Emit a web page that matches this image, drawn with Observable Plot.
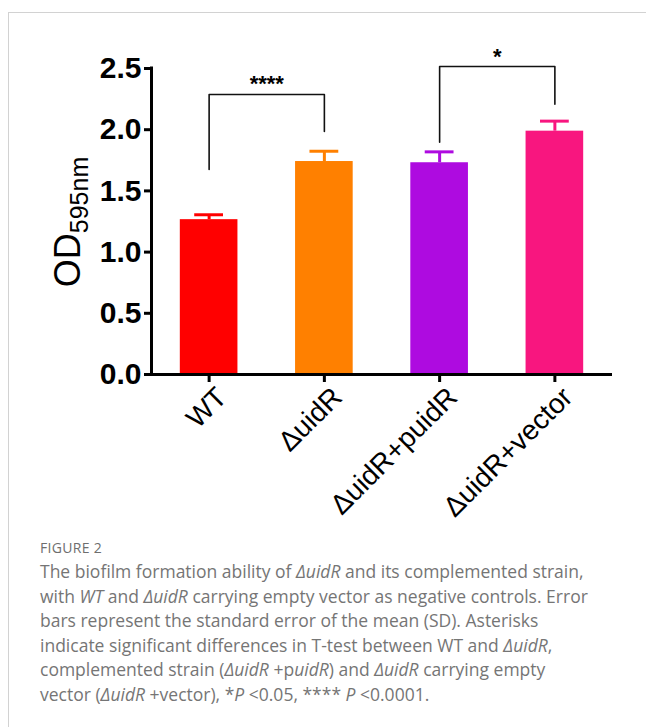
<!DOCTYPE html>
<html>
<head>
<meta charset="utf-8">
<script src="https://cdn.jsdelivr.net/npm/d3@7"></script>
<script src="https://cdn.jsdelivr.net/npm/@observablehq/plot@0.6"></script>
<style>
html, body { margin: 0; padding: 0; background: #fff; width: 646px; height: 727px; overflow: hidden; }
#card { position: absolute; left: 8px; top: 12px; width: 700px; height: 800px; border-top: 1px solid #d2d2d2; border-left: 1px solid #d2d2d2; }
#chart { position: absolute; left: 0; top: 0; }
#ylab { position: absolute; left: 71px; top: 222px; transform: translate(-50%, -50%) rotate(-90deg); white-space: nowrap; font-family: "Liberation Sans", Arial, sans-serif; font-size: 36px; line-height: 1; color: #000; }
#ylab sub { font-size: 25px; vertical-align: -0.3em; }
#fig { position: absolute; left: 40px; top: 538px; font-family: "Open Sans", sans-serif; font-size: 14px; color: #6e6e6e; letter-spacing: 0.3px; }
#cap { position: absolute; left: 40px; top: 559px; font-family: "Open Sans", sans-serif; font-size: 17.5px; line-height: 24.5px; color: #757575; white-space: nowrap; }
</style>
</head>
<body>
<div id="card"></div>
<div id="chart"></div>
<div id="ylab">OD<sub>595nm</sub></div>
<div id="fig">FIGURE 2</div>
<div id="cap">The biofilm formation ability of <i>ΔuidR</i> and its complemented strain,<br>with <i>WT</i> and <i>ΔuidR</i> carrying empty vector as negative controls. Error<br>bars represent the standard error of the mean (SD). Asterisks<br>indicate significant differences in T-test between WT and <i>ΔuidR</i>,<br>complemented strain (<i>ΔuidR</i> +p<i>uidR</i>) and <i>ΔuidR</i> carrying empty<br>vector (<i>ΔuidR</i> +vector), *<i>P</i> &lt;0.05, **** <i>P</i> &lt;0.0001.</div>
<script>
// ---- data ----
const categories = ["WT", "ΔuidR", "ΔuidR+puidR", "ΔuidR+vector"];
const means = [1.265, 1.740, 1.730, 1.988];
const errors = [0.040, 0.084, 0.089, 0.082];
const colors = ["#FF0000", "#FF8000", "#AE0BE0", "#F8167F"];
const yTicks = [0, 0.5, 1.0, 1.5, 2.0, 2.5];

const bracketFrom = [0, 2];          // category index
const bracketTo = [1, 3];
const bracketTop = [2.288, 2.516];
const bracketLeftEnd = [1.675, 1.898];
const bracketRightEnd = [1.985, 2.208];
const bracketLabels = ["****", "*"];

// ---- derived tables ----
const bars = categories.map((c, i) => ({i, name: c, value: means[i], err: errors[i], color: colors[i]}));
const bracketPts = [];
bracketFrom.forEach((f, k) => {
  const t = bracketTo[k];
  bracketPts.push({id: k, x: f, y: bracketLeftEnd[k]});
  bracketPts.push({id: k, x: f, y: bracketTop[k]});
  bracketPts.push({id: k, x: t, y: bracketTop[k]});
  bracketPts.push({id: k, x: t, y: bracketRightEnd[k]});
});
const stars = bracketLabels.map((s, k) => ({x: (bracketFrom[k] + bracketTo[k]) / 2, y: bracketTop[k], label: s}));
const xTicks = categories.map((c, i) => i);

const halfBar = 0.25, halfCap = 0.125;

const chart = Plot.plot({
  width: 646,
  height: 520,
  marginLeft: 151,
  marginRight: 34,
  marginTop: 68,
  marginBottom: 146,
  style: {fontFamily: "'Liberation Sans', Arial, sans-serif", background: "transparent", overflow: "visible", color: "#000"},
  x: {type: "linear", domain: [-0.5, 3.5], axis: null},
  y: {domain: [0, 2.5], axis: null},
  marks: [
    Plot.rectY(bars, {x1: d => d.i - halfBar, x2: d => d.i + halfBar, y1: 0, y2: "value", fill: d => d.color}),
    Plot.ruleX(bars, {x: "i", y1: "value", y2: d => d.value + d.err, stroke: d => d.color, strokeWidth: 3}),
    Plot.ruleY(bars, {x1: d => d.i - halfCap, x2: d => d.i + halfCap, y: d => d.value + d.err, stroke: d => d.color, strokeWidth: 3}),
    Plot.line(bracketPts, {x: "x", y: "y", z: "id", stroke: "#111", strokeWidth: 1.6}),
    Plot.text(stars, {x: "x", y: "y", text: "label", fontSize: 22, fontWeight: "bold", lineAnchor: "bottom", dy: -3, fill: "#000"}),
    Plot.ruleX([-0.5], {y1: 0, y2: 2.5, strokeWidth: 3, stroke: "#000", strokeLinecap: "square"}),
    Plot.ruleY([0], {x1: -0.5, x2: 3.5, strokeWidth: 3, stroke: "#000"}),
    Plot.axisY({ticks: yTicks, tickFormat: d3.format(".1f"), tickSize: 7, tickPadding: 3, strokeWidth: 3, fontSize: 30, fontWeight: "bold", label: null, anchor: "left"}),
    // x tick marks (no text)
    Plot.axisX({ticks: xTicks, tickFormat: () => "", tickSize: 8, strokeWidth: 3, label: null, anchor: "bottom"}),
    // x tick labels, rotated
    Plot.axisX({ticks: xTicks, tickFormat: i => categories[i], tickSize: 0, tickPadding: 18, dx: 13, tickRotate: -45, fontSize: 28, label: null, anchor: "bottom"})
  ]
});
document.getElementById("chart").appendChild(chart);
</script>
</body>
</html>
